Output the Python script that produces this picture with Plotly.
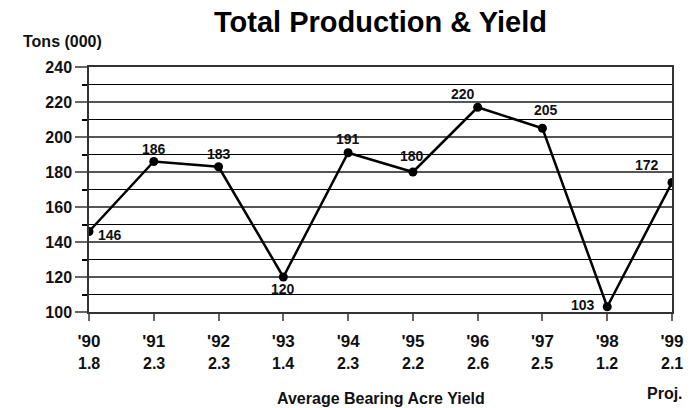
import plotly.graph_objects as go

# data
years = ["'90", "'91", "'92", "'93", "'94", "'95", "'96", "'97", "'98", "'99"]
yields = ["1.8", "2.3", "2.3", "1.4", "2.3", "2.2", "2.6", "2.5", "1.2", "2.1"]
tons = [146, 186, 183, 120, 191, 180, 217, 205, 103, 174]
tons_labels = ["146", "186", "183", "120", "191", "180", "220", "205", "103", "172"]

# label offsets (px) relative to each point
_LBL_DX = [21, 0, 0, 0, 0, -1, -15, 4, -24, -25]
_LBL_DY = [-3, 13, 13, -12, 14, 16, 13, 18, 2, 18]

_FONT = "Liberation Sans, Arial, sans-serif"
_BOLD = dict(family=_FONT, color="#111111", weight="bold")

xs = list(range(len(years)))

fig = go.Figure()
fig.add_trace(go.Scatter(
    x=xs, y=tons, mode="lines+markers",
    line=dict(color="#000000", width=2.5),
    marker=dict(size=9, color="#000000"),
    hoverinfo="skip", showlegend=False,
))

annotations = []
for x, y, t, dx, dy in zip(xs, tons, tons_labels, _LBL_DX, _LBL_DY):
    annotations.append(dict(
        x=x, y=y, xref="x", yref="y", text=t, showarrow=False,
        xshift=dx, yshift=dy, font=dict(_BOLD, size=14),
    ))

# second row under the year ticks: average bearing acre yield
for x, v in zip(xs, yields):
    annotations.append(dict(
        x=x, y=-0.212, xref="x", yref="paper", text=v, showarrow=False,
        xanchor="center", yanchor="middle", font=dict(_BOLD, size=16),
    ))

annotations += [
    dict(text="Tons (000)", xref="paper", yref="paper", x=-0.117, y=1.106,
         xanchor="left", yanchor="middle", showarrow=False, font=dict(_BOLD, size=16)),
    dict(text="Average Bearing Acre Yield", xref="paper", yref="paper", x=0.5, y=-0.352,
         xanchor="center", yanchor="middle", showarrow=False, font=dict(_BOLD, size=16)),
    dict(text="Proj.", xref="paper", yref="paper", x=0.988, y=-0.334,
         xanchor="center", yanchor="middle", showarrow=False, font=dict(_BOLD, size=16)),
]

fig.update_layout(
    width=696, height=408,
    paper_bgcolor="#FFFFFF", plot_bgcolor="#FFFFFF",
    margin=dict(l=89, r=24, t=67, b=96),
    title=dict(text="Total Production & Yield", x=0.5, xref="paper", xanchor="center",
               y=1 - 22 / 408, yanchor="middle", font=dict(_BOLD, size=29, color="#000000")),
    xaxis=dict(
        range=[0, 9], tickvals=xs, ticktext=years,
        tickfont=dict(_BOLD, size=17), ticklabelstandoff=6,
        showgrid=False, zeroline=False,
        showline=True, linecolor="#333333", linewidth=1.5, mirror=True,
        ticks="outside", ticklen=7, tickcolor="#666666", tickwidth=1.5,
    ),
    yaxis=dict(
        range=[100, 240], tickvals=list(range(100, 241, 20)),
        tickfont=dict(_BOLD, size=16),
        showgrid=True, gridcolor="#555555", gridwidth=1.5, zeroline=False,
        showline=True, linecolor="#333333", linewidth=1.5, mirror=True,
        ticks="outside", ticklen=12, tickcolor="#666666", tickwidth=1.5,
        minor=dict(dtick=10, tick0=100, showgrid=True, gridcolor="#000000", gridwidth=1,
                   ticks="outside", ticklen=5, tickcolor="#000000"),
    ),
    annotations=annotations,
)

# the page's default body margin would push the 696x408 figure off the window
fig.write_html("out.html", config={"displayModeBar": False},
               post_script="document.body.style.margin = '0';")
